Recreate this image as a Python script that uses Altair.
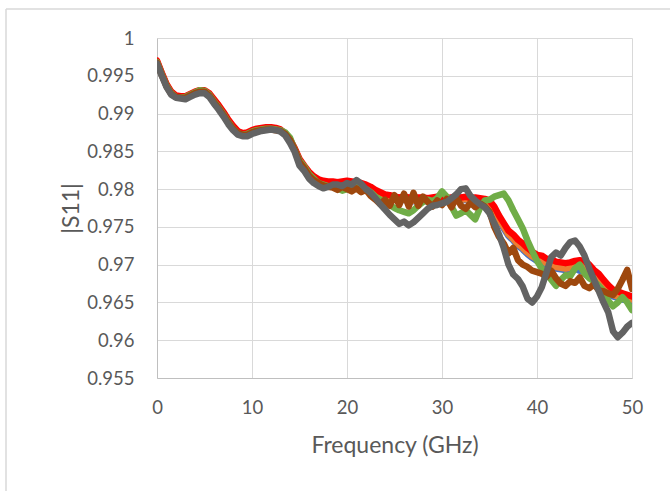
import altair as alt
import pandas as pd

freq = [i * 0.5 for i in range(101)]

gray = [0.9966, 0.9950, 0.9935, 0.9925, 0.9921, 0.9920, 0.9919, 0.9922, 0.9925, 0.9927,
        0.9927, 0.9922, 0.9913, 0.9905, 0.9896, 0.9886, 0.9878, 0.9872, 0.9870, 0.9870,
        0.9873, 0.9875, 0.9877, 0.9878, 0.9879, 0.9878, 0.9876, 0.9871, 0.9861, 0.9849,
        0.9831, 0.9824, 0.9814, 0.9808, 0.9804, 0.9801, 0.9803, 0.9806, 0.9806, 0.9804,
        0.9808, 0.9806, 0.9812, 0.9807, 0.9800, 0.9795, 0.9788, 0.9780, 0.9773, 0.9766,
        0.9760, 0.9754, 0.9757, 0.9752, 0.9756, 0.9762, 0.9768, 0.9774, 0.9778, 0.9779,
        0.9781, 0.9783, 0.9788, 0.9793, 0.9800, 0.9801, 0.9791, 0.9785, 0.9780, 0.9776,
        0.9768, 0.9755, 0.9740, 0.9722, 0.9700, 0.9687, 0.9681, 0.9671, 0.9655, 0.9650,
        0.9658, 0.9670, 0.9690, 0.9710, 0.9716, 0.9712, 0.9722, 0.9730, 0.9732, 0.9724,
        0.9712, 0.9695, 0.9680, 0.9665, 0.9650, 0.9637, 0.9612, 0.9604, 0.9610, 0.9618,
        0.9623]

red = [0.9970, 0.9954, 0.9939, 0.9929, 0.9924, 0.9923, 0.9923, 0.9926, 0.9929, 0.9931,
       0.9931, 0.9927, 0.9919, 0.9911, 0.9902, 0.9892, 0.9884, 0.9877, 0.9874, 0.9875,
       0.9878, 0.9880, 0.9881, 0.9882, 0.9882, 0.9881, 0.9879, 0.9874, 0.9866, 0.9854,
       0.9840, 0.9831, 0.9823, 0.9817, 0.9813, 0.9811, 0.9810, 0.9810, 0.9809, 0.9810,
       0.9811, 0.9810, 0.9809, 0.9808, 0.9806, 0.9803, 0.9799, 0.9796, 0.9793, 0.9792,
       0.9790, 0.9789, 0.9790, 0.9789, 0.9788, 0.9789, 0.9789, 0.9788, 0.9789, 0.9790,
       0.9789, 0.9788, 0.9789, 0.9790, 0.9789, 0.9790, 0.9788, 0.9789, 0.9788, 0.9787,
       0.9785, 0.9777, 0.9765, 0.9755, 0.9745, 0.9740, 0.9733, 0.9728, 0.9722, 0.9717,
       0.9713, 0.9712, 0.9708, 0.9707, 0.9704, 0.9703, 0.9702, 0.9703, 0.9705, 0.9706,
       0.9705, 0.9700, 0.9693, 0.9688, 0.9680, 0.9673, 0.9667, 0.9665, 0.9662, 0.9660,
       0.9658]

orange = [0.9969, 0.9953, 0.9938, 0.9928, 0.9923, 0.9922, 0.9922, 0.9925, 0.9928, 0.9930,
          0.9930, 0.9926, 0.9918, 0.9910, 0.9901, 0.9891, 0.9883, 0.9876, 0.9873, 0.9874,
          0.9877, 0.9879, 0.9880, 0.9881, 0.9881, 0.9880, 0.9878, 0.9873, 0.9865, 0.9853,
          0.9838, 0.9830, 0.9821, 0.9815, 0.9811, 0.9809, 0.9808, 0.9807, 0.9806, 0.9807,
          0.9808, 0.9807, 0.9806, 0.9805, 0.9803, 0.9800, 0.9796, 0.9793, 0.9790, 0.9789,
          0.9787, 0.9786, 0.9787, 0.9786, 0.9785, 0.9786, 0.9786, 0.9785, 0.9786, 0.9787,
          0.9786, 0.9785, 0.9786, 0.9787, 0.9786, 0.9787, 0.9785, 0.9786, 0.9785, 0.9784,
          0.9781, 0.9772, 0.9760, 0.9750, 0.9740, 0.9734, 0.9727, 0.9722, 0.9716, 0.9711,
          0.9707, 0.9706, 0.9702, 0.9700, 0.9697, 0.9696, 0.9695, 0.9696, 0.9698, 0.9698,
          0.9696, 0.9690, 0.9683, 0.9677, 0.9670, 0.9664, 0.9660, 0.9658, 0.9656, 0.9655,
          0.9654]

blue = [0.9968, 0.9952, 0.9937, 0.9927, 0.9922, 0.9921, 0.9921, 0.9924, 0.9927, 0.9929,
        0.9929, 0.9925, 0.9917, 0.9909, 0.9900, 0.9890, 0.9882, 0.9875, 0.9872, 0.9873,
        0.9876, 0.9878, 0.9879, 0.9880, 0.9880, 0.9879, 0.9877, 0.9872, 0.9864, 0.9852,
        0.9837, 0.9829, 0.9820, 0.9814, 0.9810, 0.9808, 0.9807, 0.9806, 0.9805, 0.9806,
        0.9807, 0.9806, 0.9805, 0.9804, 0.9802, 0.9799, 0.9795, 0.9792, 0.9789, 0.9788,
        0.9786, 0.9785, 0.9786, 0.9785, 0.9784, 0.9785, 0.9785, 0.9784, 0.9785, 0.9786,
        0.9785, 0.9784, 0.9785, 0.9786, 0.9785, 0.9786, 0.9784, 0.9785, 0.9784, 0.9783,
        0.9780, 0.9770, 0.9758, 0.9748, 0.9738, 0.9732, 0.9725, 0.9720, 0.9714, 0.9709,
        0.9705, 0.9704, 0.9700, 0.9698, 0.9695, 0.9694, 0.9693, 0.9694, 0.9695, 0.9692,
        0.9690, 0.9686, 0.9680, 0.9675, 0.9668, 0.9662, 0.9658, 0.9656, 0.9654, 0.9653,
        0.9652]

green = [0.9968, 0.9952, 0.9937, 0.9927, 0.9922, 0.9921, 0.9922, 0.9925, 0.9928, 0.9931,
         0.9930, 0.9925, 0.9916, 0.9908, 0.9899, 0.9889, 0.9880, 0.9874, 0.9872, 0.9873,
         0.9876, 0.9878, 0.9879, 0.9880, 0.9880, 0.9879, 0.9878, 0.9875, 0.9868, 0.9852,
         0.9838, 0.9830, 0.9820, 0.9814, 0.9808, 0.9806, 0.9804, 0.9803, 0.9801, 0.9798,
         0.9800, 0.9803, 0.9805, 0.9803, 0.9800, 0.9796, 0.9790, 0.9786, 0.9782, 0.9779,
         0.9775, 0.9772, 0.9770, 0.9768, 0.9772, 0.9778, 0.9783, 0.9786, 0.9784, 0.9788,
         0.9797, 0.9790, 0.9777, 0.9765, 0.9768, 0.9772, 0.9766, 0.9760, 0.9775, 0.9785,
         0.9786, 0.9790, 0.9792, 0.9794, 0.9785, 0.9772, 0.9760, 0.9748, 0.9732, 0.9718,
         0.9705, 0.9695, 0.9688, 0.9680, 0.9672, 0.9680, 0.9686, 0.9685, 0.9695, 0.9700,
         0.9688, 0.9682, 0.9678, 0.9672, 0.9665, 0.9652, 0.9645, 0.9650, 0.9657, 0.9650,
         0.9640]

brown = [0.9967, 0.9951, 0.9936, 0.9926, 0.9922, 0.9921, 0.9921, 0.9924, 0.9927, 0.9929,
         0.9929, 0.9924, 0.9915, 0.9907, 0.9898, 0.9888, 0.9880, 0.9874, 0.9872, 0.9872,
         0.9875, 0.9877, 0.9878, 0.9879, 0.9879, 0.9878, 0.9877, 0.9873, 0.9865, 0.9852,
         0.9836, 0.9828, 0.9818, 0.9812, 0.9808, 0.9805, 0.9803, 0.9802, 0.9799, 0.9803,
         0.9800, 0.9797, 0.9801, 0.9796, 0.9799, 0.9791, 0.9786, 0.9780, 0.9786, 0.9778,
         0.9792, 0.9779, 0.9794, 0.9777, 0.9795, 0.9778, 0.9790, 0.9783, 0.9777, 0.9785,
         0.9779, 0.9787, 0.9776, 0.9789, 0.9778, 0.9774, 0.9782, 0.9776, 0.9781, 0.9777,
         0.9770, 0.9750, 0.9737, 0.9728, 0.9715, 0.9722, 0.9706, 0.9700, 0.9697, 0.9692,
         0.9690, 0.9688, 0.9684, 0.9692, 0.9682, 0.9675, 0.9672, 0.9678, 0.9676, 0.9683,
         0.9672, 0.9669, 0.9674, 0.9666, 0.9665, 0.9662, 0.9660, 0.9668, 0.9680, 0.9693,
         0.9668]

series_names = ["S1", "S2", "S3", "S4", "S5", "S6"]
series_values = [blue, orange, red, green, brown, gray]
series_colors = ["#4472C4", "#ED7D31", "#FF0000", "#70AD47", "#9E480E", "#636363"]

y_ticks = [0.955, 0.96, 0.965, 0.97, 0.975, 0.98, 0.985, 0.99, 0.995, 1.0]
x_ticks = [0, 10, 20, 30, 40, 50]

rows = []
for order, (name, vals) in enumerate(zip(series_names, series_values)):
    for f, v in zip(freq, vals):
        rows.append({"f": f, "s11": v, "series": name, "ord": order})
df = pd.DataFrame(rows)

FONT = "Lato"
TXT = "#595959"

lines = alt.Chart(df).mark_line(
    strokeWidth=6.5, strokeCap="round", strokeJoin="round", clip=True
).encode(
    x=alt.X("f:Q", scale=alt.Scale(domain=[0, 50], nice=False),
            axis=alt.Axis(values=x_ticks, title="Frequency (GHz)", grid=True,
                          labelFontSize=18.5, titleFontSize=23, labelPadding=20,
                          labelFlush=False, labelOverlap=False,
                          titlePadding=18, tickSize=0, domainColor="#BFBFBF",
                          gridColor="#D9D9D9", labelColor=TXT, titleColor=TXT,
                          labelFont=FONT, titleFont=FONT, titleFontWeight="normal")),
    y=alt.Y("s11:Q", scale=alt.Scale(domain=[0.955, 1.0], nice=False, zero=False),
            axis=alt.Axis(values=y_ticks, title="|S11|", grid=True, format="~g",
                          labelFontSize=18.5, titleFontSize=23, labelPadding=23,
                          labelFlush=False, labelOverlap=False,
                          tickSize=0, domainColor="#BFBFBF",
                          titleX=-86, titleY=170, titleAngle=270,
                          titleBaseline="middle", titleAlign="center",
                          gridColor="#D9D9D9", labelColor=TXT, titleColor=TXT,
                          labelFont=FONT, titleFont=FONT, titleFontWeight="normal")),
    color=alt.Color("series:N", scale=alt.Scale(domain=series_names, range=series_colors),
                    legend=None),
    order=alt.Order("ord:Q"),
    detail="series:N",
)

frame_left = alt.Chart().mark_rule(color="#D9D9D9", strokeWidth=1.5).encode(
    x=alt.value(-151), y=alt.value(-29), y2=alt.value(470))
frame_top = alt.Chart().mark_rule(color="#D9D9D9", strokeWidth=1.5).encode(
    x=alt.value(-151), x2=alt.value(560), y=alt.value(-29))

chart = alt.layer(frame_left, frame_top, lines).properties(
    width=475, height=340,
    autosize=alt.AutoSizeParams(type="none"),
    padding={"left": 157, "top": 38, "right": 38, "bottom": 113},
    background="white",
).configure_view(stroke=None)

chart.save("out.html", embed_options={"renderer": "svg", "actions": False})
